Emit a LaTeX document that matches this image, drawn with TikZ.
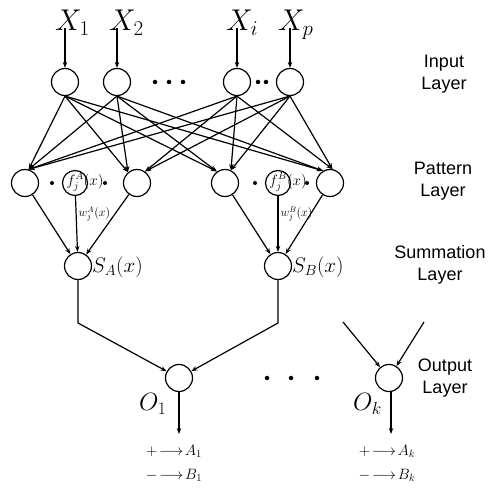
\RequirePackage{fix-cm}
\documentclass[tikz,border=0pt]{standalone}
\usepackage{fontspec}
\setsansfont{Liberation Sans}
\usetikzlibrary{arrows.meta}
\begin{document}
\begin{tikzpicture}[x=1pt,y=-1pt,
  neuron/.style={circle,draw,line width=1.2pt,minimum size=27pt,inner sep=0pt},
  conn/.style={line width=1.2pt,-{Stealth[length=6pt,width=4.5pt]}},
  lay/.style={font=\sffamily\fontsize{18}{22}\selectfont,align=center},
  xl/.style={font=\fontsize{30}{32}\selectfont,anchor=base west,inner sep=0pt},
  ol/.style={font=\fontsize{25}{27}\selectfont,anchor=base west,inner sep=0pt},
  sl/.style={font=\fontsize{21}{23}\selectfont,anchor=west,inner sep=0pt},
  rl/.style={font=\fontsize{15}{17}\selectfont},
  wl/.style={font=\fontsize{12}{13}\selectfont,right,pos=0.32,inner sep=2pt},
  dot/.style={circle,fill,inner sep=0pt,minimum size=4.5pt}]
\useasboundingbox (0,0) rectangle (496,489);
% input layer
\node[neuron] (in1) at (65,82) {};
\node[neuron] (in2) at (117,82) {};
\node[neuron] (ini) at (237,82) {};
\node[neuron] (inp) at (290,82) {};
\node[xl] (x1) at (55,31) {$X_1$};
\node[xl] (x2) at (109,31) {$X_2$};
\node[xl] (xi) at (226,31) {$X_i$};
\node[xl] (xp) at (278,31) {$X_p$};
\coordinate (s1) at (65,28);
\coordinate (s2) at (117,28);
\coordinate (si) at (237,28);
\coordinate (sp) at (290,28);
\draw[conn] (s1) -- (in1);
\draw[conn] (s2) -- (in2);
\draw[conn] (si) -- (ini);
\draw[conn] (sp) -- (inp);
\node[dot] (d1) at (155,82) {};
\node[dot] (d2) at (169,82) {};
\node[dot] (d3) at (183,82) {};
\node[dot] (d4) at (258,82) {};
\node[dot] (d5) at (266,82) {};
% pattern layer
\node[neuron] (p1) at (25,183) {};
\node[neuron] (p2) at (137,183) {};
\node[neuron] (p3) at (225,183) {};
\node[neuron] (p4) at (330,183) {};
\node[neuron,minimum size=25pt] (fA) at (75,183) {};
\node[neuron,minimum size=25pt] (fB) at (278,183) {};
\node[font=\fontsize{15}{17}\selectfont] (fAt) at (85,182) {$f_j^A(x)$};
\node[font=\fontsize{15}{17}\selectfont] (fBt) at (288,182) {$f_j^B(x)$};
\node[dot,minimum size=4pt] (e1) at (52,183) {};
\node[dot,minimum size=4pt] (e2) at (105,183) {};
\node[dot,minimum size=4pt] (e3) at (255,183) {};
\node[dot,minimum size=4pt] (e4) at (307,183) {};
\foreach \i in {in1,in2,ini,inp}
  \draw[conn] (\i.south) -- (p1.75);
\foreach \i in {in1,in2}{
  \draw[conn] (\i.south) -- (p2.130);
  \draw[conn] (\i.south) -- (p3.125);
  \draw[conn] (\i.south) -- (p4.120);}
\foreach \i in {ini,inp}{
  \draw[conn] (\i.south) -- (p2.55);
  \draw[conn] (\i.south) -- (p3.65);
  \draw[conn] (\i.south) -- (p4.80);}
% summation layer
\node[neuron] (sA) at (78,266) {};
\node[neuron] (sB) at (278,266) {};
\node[sl] (sAt) at (92,267) {$S_A(x)$};
\node[sl] (sBt) at (292,267) {$S_B(x)$};
\draw[conn] (p1) -- (sA);
\draw[conn] (p2) -- (sA);
\draw[conn] (fA) -- node[wl] (wA) {$w_j^A(x)$} (sA);
\draw[conn] (p3) -- (sB);
\draw[conn] (p4) -- (sB);
\draw[conn] (fB) -- node[wl] (wB) {$w_j^B(x)$} (sB);
% output layer
\node[neuron] (o1) at (179,378) {};
\node[neuron] (ok) at (389,378) {};
\coordinate (cA) at (78,323);
\coordinate (cB) at (278,323);
\draw[conn] (sA) -- (cA) -- (o1);
\draw[conn] (sB) -- (cB) -- (o1);
\coordinate (k1) at (343,322);
\coordinate (k2) at (424,322);
\draw[conn] (k1) -- (ok);
\draw[conn] (k2) -- (ok);
\node[dot] (m1) at (267,378) {};
\node[dot] (m2) at (291,378) {};
\node[dot] (m3) at (317,378) {};
\node[ol] (o1t) at (139,411) {$O_1$};
\node[ol] (okt) at (353,411) {$O_k$};
\coordinate (t1) at (179,434);
\coordinate (tk) at (391,434);
\draw[conn] (o1) -- (t1);
\draw[conn] (ok.south -| tk) -- (tk);
\node[rl] (a1) at (174,451) {$+\!\longrightarrow\! A_1$};
\node[rl] (b1) at (174,475) {$-\!\longrightarrow\! B_1$};
\node[rl] (ak) at (387,451) {$+\!\longrightarrow\! A_k$};
\node[rl] (bk) at (387,475) {$-\!\longrightarrow\! B_k$};
% layer labels
\node[lay] (L1) at (444,74) {Input\\Layer};
\node[lay] (L2) at (443,181) {Pattern\\Layer};
\node[lay] (L3) at (440,265) {Summation\\Layer};
\node[lay] (L4) at (445,378) {Output\\Layer};
\end{tikzpicture}
\end{document}
